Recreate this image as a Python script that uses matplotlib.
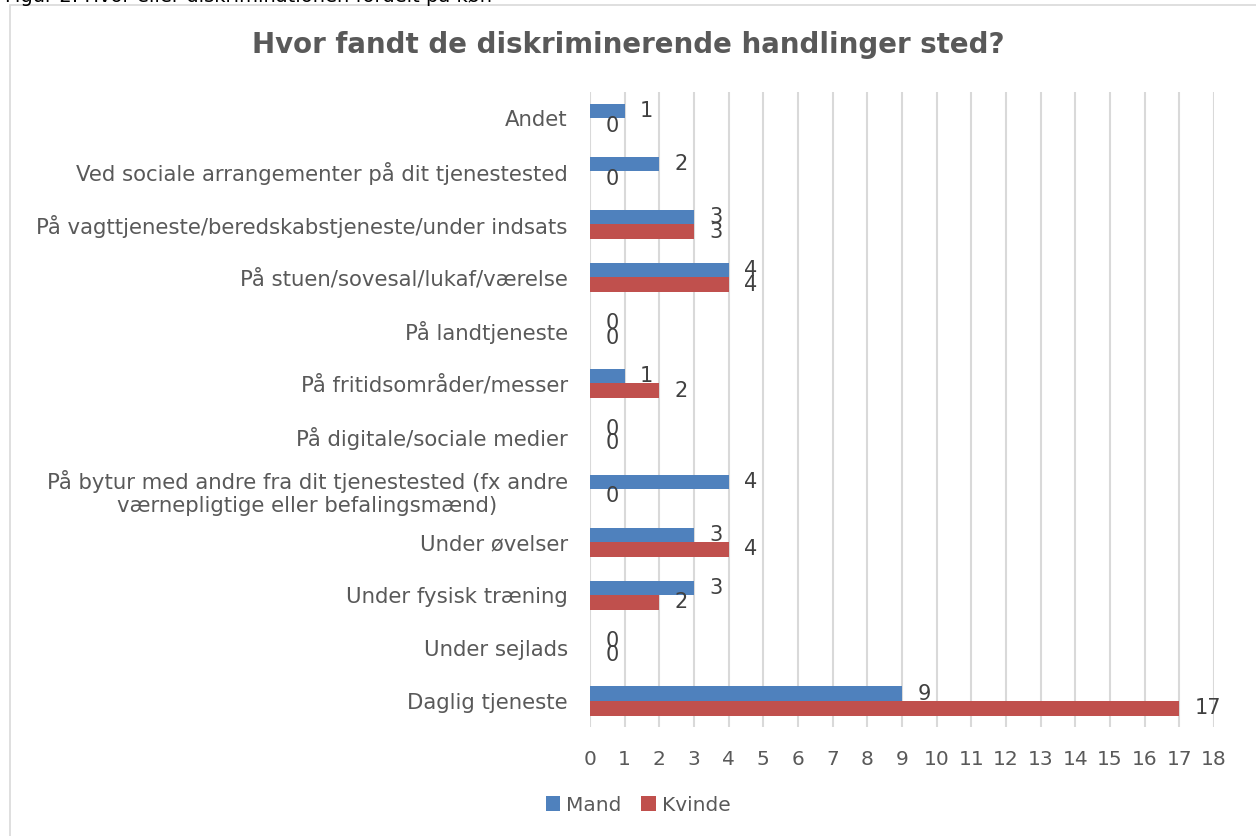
import matplotlib
matplotlib.use("Agg")
import matplotlib.pyplot as plt
import numpy as np
from matplotlib.patches import Rectangle

categories = [
    "Andet",
    "Ved sociale arrangementer på dit tjenestested",
    "På vagttjeneste/beredskabstjeneste/under indsats",
    "På stuen/sovesal/lukaf/værelse",
    "På landtjeneste",
    "På fritidsområder/messer",
    "På digitale/sociale medier",
    "På bytur med andre fra dit tjenestested (fx andre\nværnepligtige eller befalingsmænd)",
    "Under øvelser",
    "Under fysisk træning",
    "Under sejlads",
    "Daglig tjeneste",
]
mand = [1, 2, 3, 4, 0, 1, 0, 4, 3, 3, 0, 9]
kvinde = [0, 0, 3, 4, 0, 2, 0, 0, 4, 2, 0, 17]

blue = "#4F81BD"
red = "#C0504D"
txt = "#595959"

plt.rcParams['font.family'] = ['DejaVu Sans']

fig = plt.figure(figsize=(12.56, 8.36), dpi=100)
ax = fig.add_axes([0.4697, 0.1298, 0.4968, 0.7602])

pos = np.arange(len(categories))
h = 0.275
b1 = ax.barh(pos - h / 2, mand, height=h, color=blue, label="Mand", zorder=3)
b2 = ax.barh(pos + h / 2, kvinde, height=h, color=red, label="Kvinde", zorder=3)

for bars, vals in ((b1, mand), (b2, kvinde)):
    for bar, v in zip(bars, vals):
        ax.annotate(str(v), (v, bar.get_y() + bar.get_height() / 2),
                    xytext=(11, 0), textcoords="offset points",
                    ha="left", va="center", fontsize=15, color="#404040", zorder=4)

ax.set_xlim(0, 18)
ax.set_ylim(len(categories) - 0.5, -0.5)
ax.set_xticks(range(0, 19))
ax.set_yticks(pos)
ax.set_yticklabels(categories)
for lbl in ax.get_yticklabels():
    lbl.set_multialignment("center")
ax.tick_params(axis="y", length=0, pad=16, labelsize=15.3, labelcolor=txt)
ax.tick_params(axis="x", length=0, pad=16, labelsize=14.5, labelcolor=txt)
ax.grid(axis="x", color="#D9D9D9", linewidth=1.5, zorder=0)
for s in ax.spines.values():
    s.set_visible(False)

fig.text(0.5, 0.946, "Hvor fandt de diskriminerende handlinger sted?",
         ha="center", va="center", fontsize=19.9, fontweight="bold", color=txt)

fig.legend(loc="center", bbox_to_anchor=(0.508, 0.037), ncol=2, frameon=False,
           fontsize=14.5, labelcolor=txt, handlelength=0.7, handleheight=0.7,
           handletextpad=0.3, columnspacing=1.0)

fig.patches.append(Rectangle((10 / 1256, -0.01), 1.1, 1 - 5 / 836 + 0.01,
                             transform=fig.transFigure, fill=False,
                             edgecolor="#D9D9D9", linewidth=1.2))

fig.text(0.004, 1 - 1.5 / 836, "Figur 2: Hvor eller diskriminationen fordelt på køn",
         ha="left", va="baseline", fontsize=14, color="#000000")

fig.savefig("out.png", dpi=100)
